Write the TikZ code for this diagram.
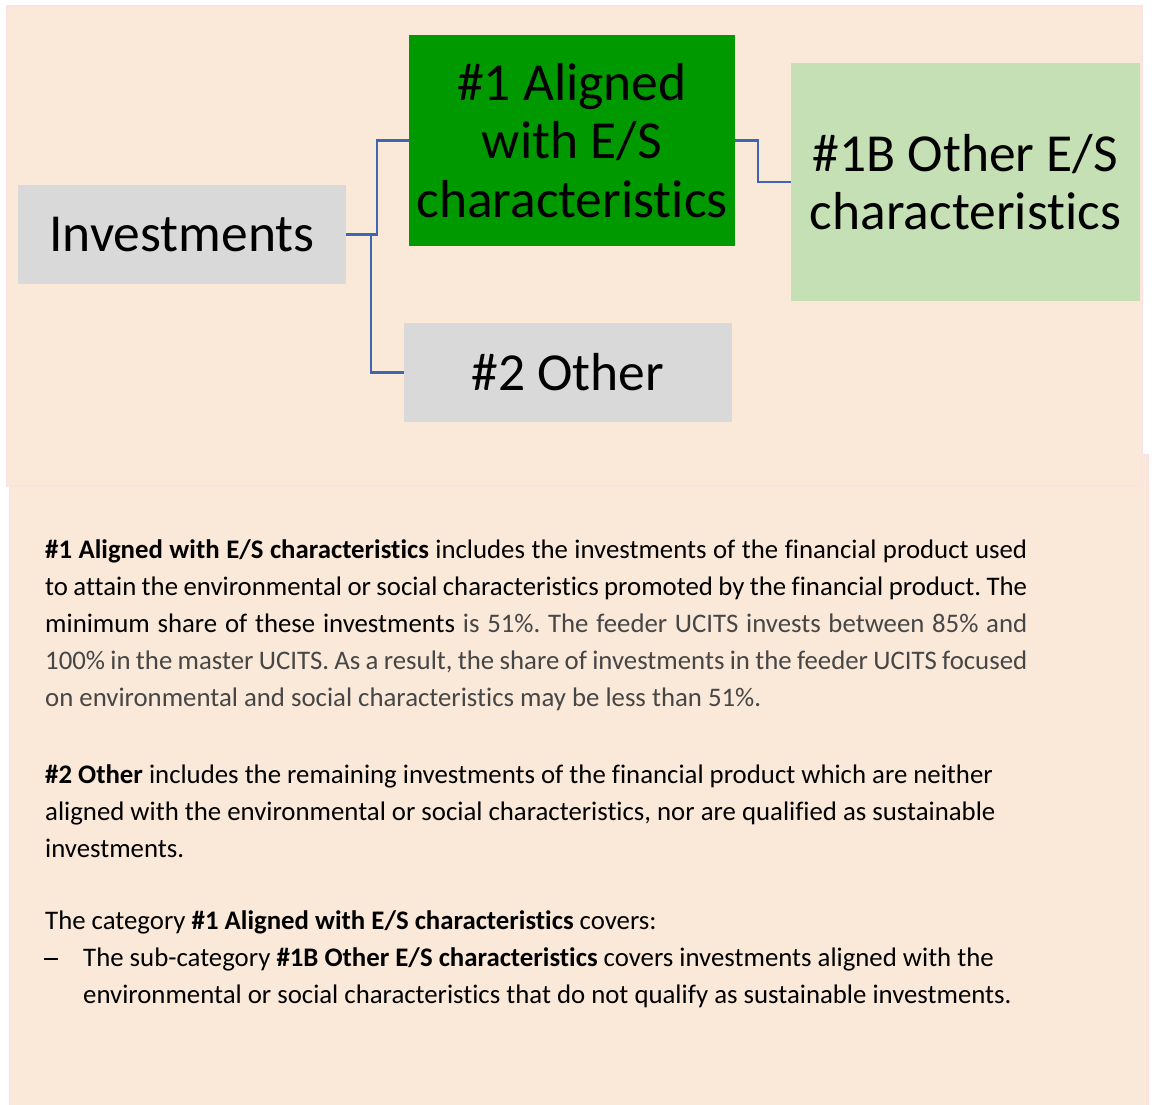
\documentclass[tikz,border=0pt]{standalone}
\usepackage{fontspec}
\setmainfont{Carlito}[Ligatures={NoCommon}]
\definecolor{panel}{HTML}{FAE8D8}
\definecolor{panelline}{HTML}{FCE2E2}
\definecolor{graybox}{HTML}{D9D9D9}
\definecolor{darkgreen}{HTML}{009900}
\definecolor{lightgreen}{HTML}{C5E0B4}
\definecolor{connblue}{HTML}{4166B0}
\definecolor{softtext}{HTML}{464646}
\tikzset{
  box/.style={rectangle, inner sep=0pt, align=center, text=black,
    font=\fontsize{53.5}{58.5}\selectfont},
  conn/.style={draw=connblue, line width=2.2pt},
  para/.style={anchor=base west, inner sep=0pt, font=\fontsize{26.8}{37}\selectfont, text=black},
}
\newcommand{\jline}[1]{\makebox[982pt][s]{#1}}
\frenchspacing
\begin{document}
\begin{tikzpicture}[x=1pt,y=-1pt]
\useasboundingbox (0,0) rectangle (1152,1104);
\fill[white] (0,0) rectangle (1152,1104);
% panels
\draw[panelline, fill=panel, line width=1.5pt] (10,455) rectangle (1148,1112);
\draw[panelline, fill=panel, line width=1.5pt] (7,6) rectangle (1142,486);
% boxes
\node[box, fill=graybox, minimum width=328pt, minimum height=99pt] (inv) at (182,234.5) {Investments};
\node[box, fill=darkgreen, minimum width=326pt, minimum height=211pt] (a1) at (572,140.5) {\#1 Aligned\\with E/S\\characteristics};
\node[box, fill=lightgreen, minimum width=349pt, minimum height=238pt] (b1) at (965.5,182) {\#1B Other E/S\\characteristics};
\node[box, fill=graybox, minimum width=328pt, minimum height=99pt] (oth) at (568,372.5) {\#2 Other};
% connectors
\draw[conn] (inv.east) -- ++(31,0) |- (a1.west);
\draw[conn] (inv.east) -- ++(25,0) |- (oth.west);
\draw[conn] (a1.east) -- ++(23,0) |- (b1.west);
% text
\node[para] (t1) at (45,558) {\jline{\textbf{\#1 Aligned with E/S characteristics} includes the investments of the financial product used}};
\node[para] (t2) at (45,595) {\jline{to attain the environmental or social characteristics promoted by the financial product. The}};
\node[para] (t3) at (45,632) {\jline{minimum share of these investments {\color{softtext}is 51\%. The feeder UCITS invests between 85\% and}}};
\node[para, text=softtext] (t4) at (45,669) {\jline{100\% in the master UCITS. As a result, the share of investments in the feeder UCITS focused}};
\node[para, text=softtext] (t5) at (45,706) {on environmental and social characteristics may be less than 51\%.};
\node[para] (t6) at (45,783) {\textbf{\#2 Other} includes the remaining investments of the financial product which are neither};
\node[para] (t7) at (45,820) {aligned with the environmental or social characteristics, nor are qualified as sustainable};
\node[para] (t8) at (45,857) {investments.};
\node[para] (t9) at (45,929) {The category \textbf{\#1 Aligned with E/S characteristics} covers:};
\node[para] (t10d) at (44,966) {\makebox[15pt][l]{\rule[0.24em]{14pt}{2pt}}};
\node[para] (t10) at (83,966) {The sub-category \textbf{\#1B Other E/S characteristics} covers investments aligned with the};
\node[para] (t11) at (83,1003) {environmental or social characteristics that do not qualify as sustainable investments.};
\end{tikzpicture}
\end{document}
